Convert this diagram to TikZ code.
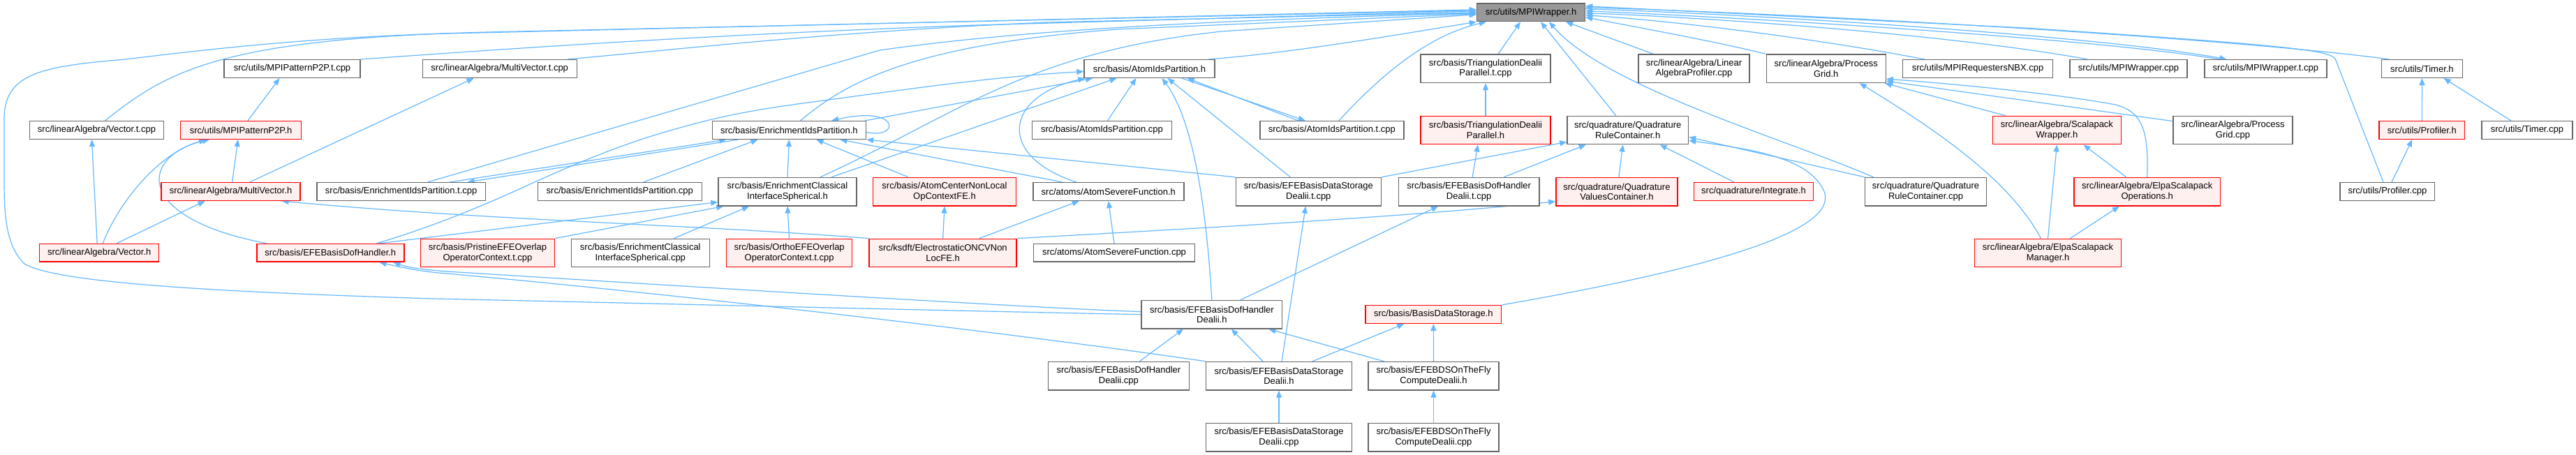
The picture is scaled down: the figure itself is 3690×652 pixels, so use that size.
\documentclass[tikz,border=0pt]{standalone}
\usepackage{fontspec}
\setmainfont{Liberation Sans}
\usetikzlibrary{arrows.meta}
\definecolor{edgeblue}{HTML}{63B8FF}
\definecolor{boxgray}{HTML}{666666}
\definecolor{redfill}{HTML}{FFF0F0}
\definecolor{rootfill}{HTML}{999999}
\pgfdeclarelayer{bglayer}
\pgfdeclarelayer{edgelayer}
\pgfsetlayers{bglayer,edgelayer,main}
\begin{document}
\begin{tikzpicture}[x=1pt,y=-1pt,
  nbox/.style={draw=boxgray,fill=white,line width=1.4pt,inner sep=0pt,align=center,font=\fontsize{13}{14.3}\selectfont},
  rbox/.style={nbox,draw=red,fill=redfill},
  rootbox/.style={nbox,fill=rootfill},
  hone/.style={minimum height=25.7pt},
  htwo/.style={minimum height=40.4pt},
  ed/.style={draw=edgeblue,line width=1.2pt,-{Triangle[length=10pt,width=8pt]}}]
\begin{pgfonlayer}{bglayer}
\fill[white] (0,0) rectangle (3690,652);
\end{pgfonlayer}
\useasboundingbox (0,0) rectangle (3690,652);
% row 1
\node[rootbox,hone,minimum width=155] (mpiw) at (2193,17.8) {src/utils/MPIWrapper.h};
% row 2
\node[nbox,hone,minimum width=195] (p2ptcpp) at (418.5,98.5) {src/utils/MPIPatternP2P.t.cpp};
\node[nbox,hone,minimum width=221] (mvtcpp) at (715.7,98.5) {src/linearAlgebra/MultiVector.t.cpp};
\node[nbox,hone,minimum width=187] (aiph) at (1646.5,98.5) {src/basis/AtomIdsPartition.h};
\node[nbox,htwo,minimum width=186] (tdptcpp) at (2128,98.3) {src/basis/TriangulationDealii\\Parallel.t.cpp};
\node[nbox,htwo,minimum width=159] (laprof) at (2426.5,98.3) {src/linearAlgebra/Linear\\AlgebraProfiler.cpp};
\node[nbox,htwo,minimum width=171] (pgh) at (2615.7,98.3) {src/linearAlgebra/Process\\Grid.h};
\node[nbox,hone,minimum width=215] (nbx) at (2833,98.5) {src/utils/MPIRequestersNBX.cpp};
\node[nbox,hone,minimum width=168] (mpiwcpp) at (3049,98.5) {src/utils/MPIWrapper.cpp};
\node[nbox,hone,minimum width=175] (mpiwtcpp) at (3245.4,98.5) {src/utils/MPIWrapper.t.cpp};
\node[nbox,hone,minimum width=116] (timerh) at (3469.4,98.5) {src/utils/Timer.h};
% row 3
\node[nbox,hone,minimum width=192] (vtcpp) at (138.5,186.5) {src/linearAlgebra/Vector.t.cpp};
\node[rbox,hone,minimum width=173] (p2ph) at (345,186.5) {src/utils/MPIPatternP2P.h};
\node[nbox,hone,minimum width=220] (eiph) at (1130.4,186.5) {src/basis/EnrichmentIdsPartition.h};
\node[nbox,hone,minimum width=200] (aipcpp) at (1578.5,186.5) {src/basis/AtomIdsPartition.cpp};
\node[nbox,hone,minimum width=206] (aiptcpp) at (1907.8,186.5) {src/basis/AtomIdsPartition.t.cpp};
\node[rbox,htwo,minimum width=186] (tdph) at (2128,186.5) {src/basis/TriangulationDealii\\Parallel.h};
\node[nbox,htwo,minimum width=173.5] (qrch) at (2331.7,186.5) {src/quadrature/Quadrature\\RuleContainer.h};
\node[rbox,htwo,minimum width=184] (scalw) at (2946.4,186.5) {src/linearAlgebra/Scalapack\\Wrapper.h};
\node[nbox,htwo,minimum width=171] (pgcpp) at (3198.5,186.5) {src/linearAlgebra/Process\\Grid.cpp};
\node[rbox,hone,minimum width=122.5] (profh) at (3469.3,186.5) {src/utils/Profiler.h};
\node[nbox,hone,minimum width=130] (timercpp) at (3620,186.5) {src/utils/Timer.cpp};
% row 4
\node[rbox,hone,minimum width=199] (mvh) at (330.6,274.5) {src/linearAlgebra/MultiVector.h};
\node[nbox,hone,minimum width=241.6] (eiptcpp) at (574.7,274.5) {src/basis/EnrichmentIdsPartition.t.cpp};
\node[nbox,hone,minimum width=235] (eipcpp) at (887.8,274.5) {src/basis/EnrichmentIdsPartition.cpp};
\node[nbox,htwo,minimum width=198] (ecish) at (1128,274.7) {src/basis/EnrichmentClassical\\InterfaceSpherical.h};
\node[rbox,htwo,minimum width=205] (acnl) at (1353,274.7) {src/basis/AtomCenterNonLocal\\OpContextFE.h};
\node[nbox,hone,minimum width=216] (asfh) at (1587.8,274.5) {src/atoms/AtomSevereFunction.h};
\node[nbox,htwo,minimum width=208] (efebdsdtcpp) at (1874.3,274.7) {src/basis/EFEBasisDataStorage\\Dealii.t.cpp};
\node[nbox,htwo,minimum width=201.6] (efebdhdtcpp) at (2104.1,274.7) {src/basis/EFEBasisDofHandler\\Dealii.t.cpp};
\node[rbox,htwo,minimum width=174] (qvch) at (2315.9,274.7) {src/quadrature/Quadrature\\ValuesContainer.h};
\node[rbox,hone,minimum width=171] (integ) at (2512,274.5) {src/quadrature/Integrate.h};
\node[nbox,htwo,minimum width=173.5] (qrccpp) at (2758.5,274.7) {src/quadrature/Quadrature\\RuleContainer.cpp};
\node[rbox,htwo,minimum width=209.4] (elpaops) at (3075.7,274.7) {src/linearAlgebra/ElpaScalapack\\Operations.h};
\node[nbox,hone,minimum width=135.7] (profcpp) at (3419.9,274.5) {src/utils/Profiler.cpp};
% row 5
\node[rbox,hone,minimum width=171] (vh) at (142.2,362.3) {src/linearAlgebra/Vector.h};
\node[rbox,hone,minimum width=211] (efebdhh) at (473.3,362.3) {src/basis/EFEBasisDofHandler.h};
\node[rbox,htwo,minimum width=192] (pristine) at (698.5,362.5) {src/basis/PristineEFEOverlap\\OperatorContext.t.cpp};
\node[nbox,htwo,minimum width=198] (eciscpp) at (917.3,362.5) {src/basis/EnrichmentClassical\\InterfaceSpherical.cpp};
\node[rbox,htwo,minimum width=180] (ortho) at (1130.6,362.5) {src/basis/OrthoEFEOverlap\\OperatorContext.t.cpp};
\node[rbox,htwo,minimum width=211] (oncv) at (1350.6,362.5) {src/ksdft/ElectrostaticONCVNon\\LocFE.h};
\node[nbox,hone,minimum width=231] (asfcpp) at (1596,362.3) {src/atoms/AtomSevereFunction.cpp};
\node[rbox,htwo,minimum width=210] (elpamgr) at (2933.5,362.5) {src/linearAlgebra/ElpaScalapack\\Manager.h};
% row 6
\node[nbox,htwo,minimum width=201.7] (efebdhdh) at (1735.9,450.7) {src/basis/EFEBasisDofHandler\\Dealii.h};
\node[rbox,hone,minimum width=194.7] (bdsh) at (2053.3,450.5) {src/basis/BasisDataStorage.h};
% row 7
\node[nbox,htwo,minimum width=201.7] (efebdhdcpp) at (1602.4,538.7) {src/basis/EFEBasisDofHandler\\Dealii.cpp};
\node[nbox,htwo,minimum width=208.5] (efebdsdh) at (1832,538.7) {src/basis/EFEBasisDataStorage\\Dealii.h};
\node[nbox,htwo,minimum width=187] (otfh) at (2053.5,538.7) {src/basis/EFEBDSOnTheFly\\ComputeDealii.h};
% row 8
\node[nbox,htwo,minimum width=208.5] (efebdsdcpp) at (1832,626.7) {src/basis/EFEBasisDataStorage\\Dealii.cpp};
\node[nbox,htwo,minimum width=187] (otfcpp) at (2053.5,626.7) {src/basis/EFEBDSOnTheFly\\ComputeDealii.cpp};

\begin{pgfonlayer}{edgelayer}
% edges into MPIWrapper.h from the left
\draw[ed] ([xshift=12pt]vtcpp.north) .. controls (230,110) and (300,60) .. (640,48) -- ([yshift=4pt]mpiw.west);
\draw[ed] (efebdhdh.west) .. controls (1300,444) and (900,434) .. (620,428) .. controls (300,418) and (80,405) .. (35,378) .. controls (6,350) and (6,300) .. (6,250) -- (6,170) .. controls (6,105) and (60,95) .. (180,85) .. controls (320,68) and (460,52) .. (700,46) -- ([yshift=3pt]mpiw.west);
\draw[ed] (p2ptcpp.north east) .. controls (700,72) and (1000,50) .. (1400,36) -- ([yshift=2pt]mpiw.west);
\draw[ed] ([xshift=-14pt]mvtcpp.north east) .. controls (1000,68) and (1200,45) .. (1500,32) -- (mpiw.west);
\draw[ed] ([xshift=38pt]eiptcpp.north) -- (1260,72) .. controls (1450,45) and (1700,30) .. ([yshift=-1pt]mpiw.west);
\draw[ed] ([xshift=16pt]eiph.north) .. controls (1210,120) and (1300,65) .. (1600,42) -- ([yshift=-2pt]mpiw.west);
\draw[ed] ([xshift=47pt]ecish.north) .. controls (1380,160) and (1470,75) .. (1750,45) -- ([yshift=-3pt]mpiw.west);
\draw[ed] ([xshift=-10pt]aiph.north east) .. controls (1850,76) and (2000,50) .. (mpiw.south west);
% edges into MPIWrapper.h from below and the right
\draw[ed] ([xshift=10pt]aiptcpp.north) .. controls (1985,100) and (2050,50) .. ([xshift=14pt]mpiw.south west);
\draw[ed] ([xshift=18pt]tdptcpp.north) -- ([xshift=-15pt]mpiw.south);
\draw[ed] ([xshift=-17pt]qrch.north) -- ([xshift=14pt]mpiw.south);
\draw[ed] ([xshift=-75pt]qrccpp.north) .. controls (2560,200) and (2300,125) .. ([xshift=26pt]mpiw.south);
\draw[ed] ([xshift=-58pt]laprof.north) -- ([xshift=50pt]mpiw.south);
\draw[ed] (pgh.north west) .. controls (2460,60) and (2350,40) .. ([yshift=-7pt]mpiw.east);
\draw[ed] ([xshift=-76pt]nbx.north) .. controls (2600,55) and (2400,30) .. ([yshift=-4pt]mpiw.east);
\draw[ed] ([xshift=-59pt]mpiwcpp.north) .. controls (2800,50) and (2450,25) .. ([yshift=-1pt]mpiw.east);
\draw[ed] ([xshift=-66pt]mpiwtcpp.north) .. controls (3000,55) and (2500,25) .. ([yshift=2pt]mpiw.east);
\draw[ed] ([yshift=5pt]mpiw.east) .. controls (2500,20) and (3000,50) .. ([xshift=-56pt]mpiwtcpp.north);
\draw[ed] ([xshift=-47pt]timerh.north) .. controls (3200,55) and (2600,20) .. ([yshift=7pt]mpiw.east);
\draw[ed] ([xshift=-6pt]profcpp.north) -- (3345,84) .. controls (3335,72) and (3280,65) .. (2900,40) -- ([yshift=9pt]mpiw.east);
% left group
\draw[ed] ([xshift=10pt]p2ph.north) -- ([xshift=-18pt]p2ptcpp.south);
\draw[ed] ([xshift=27pt]mvh.north) -- ([xshift=-37pt]mvtcpp.south);
\draw[ed] ([xshift=-3pt]vh.north) -- ([xshift=-7pt]vtcpp.south);
\draw[ed] ([xshift=5pt]vh.north) .. controls (170,290) and (230,215) .. ([xshift=-45pt]p2ph.south);
\draw[ed] ([xshift=-91pt]efebdhh.north) .. controls (200,315) and (195,230) .. ([xshift=-50pt]p2ph.south);
\draw[ed] ([xshift=2pt]mvh.north) -- ([xshift=-4pt]p2ph.south);
\draw[ed] ([xshift=25pt]vh.north) -- ([xshift=-37pt]mvh.south);
\draw[ed] (oncv.north west) .. controls (1000,322) and (700,316) .. ([xshift=73pt]mvh.south);
% EnrichmentIdsPartition.h
\draw[ed] ([xshift=70pt]eiptcpp.north) -- ([xshift=-90pt]eiph.south);
\draw[ed] ([xshift=-73pt]eiph.south) -- ([xshift=95pt]eiptcpp.north);
\draw[ed] ([xshift=34pt]eipcpp.north) -- ([xshift=-45pt]eiph.south);
\draw[ed] (ecish.north) -- (eiph.south);
\draw[ed] ([xshift=-52pt]acnl.north) -- ([xshift=39pt]eiph.south);
\draw[ed] ([xshift=-66pt]asfh.north) -- ([xshift=73pt]eiph.south);
\draw[ed] (efebdsdtcpp.north west) -- (eiph.south east);
\draw[ed] ([yshift=-3pt]eiph.east) .. controls (1290,200) and (1290,150) .. ([xshift=-50pt]eiph.north east);
% AtomIdsPartition.h
\draw[ed] ([xshift=-40pt]efebdhh.north east) .. controls (620,325) and (690,295) .. (735,275) .. controls (800,245) and (880,210) .. (950,190) .. controls (1010,172) and (1060,160) .. (1150,148) .. controls (1300,128) and (1420,110) .. ([yshift=-4pt]aiph.west);
\draw[ed] ([xshift=-2pt]eiph.north east) -- ([xshift=13pt]aiph.south west);
\draw[ed] ([xshift=-46pt]asfh.north) .. controls (1430,225) and (1435,140) .. ([xshift=2pt]aiph.south west);
\draw[ed] ([xshift=63pt]ecish.north) -- ([xshift=-47pt]aiph.south);
\draw[ed] ([xshift=8pt]aipcpp.north) -- ([xshift=-19pt]aiph.south);
\draw[ed] (efebdhdh.north) .. controls (1725,250) and (1700,160) .. ([xshift=18pt]aiph.south);
\draw[ed] ([xshift=-26pt]efebdsdtcpp.north) -- ([xshift=26pt]aiph.south);
\draw[ed] ([xshift=-48pt]aiptcpp.north) -- ([xshift=-40pt]aiph.south east);
\draw[ed] ([xshift=-48pt]aiph.south east) -- ([xshift=-38pt]aiptcpp.north);
% atoms / nonlocal
\draw[ed] (oncv.north) -- (acnl.south);
\draw[ed] ([xshift=52pt]oncv.north) -- ([xshift=-42pt]asfh.south);
\draw[ed] (asfcpp.north) -- (asfh.south);
\draw[ed] (oncv.north east) .. controls (1700,328) and (2000,312) .. ([yshift=-14pt]qvch.west);
% EnrichmentClassicalInterfaceSpherical.h
\draw[ed] ([xshift=48pt]eciscpp.north) -- ([xshift=-55pt]ecish.south);
\draw[ed] (ortho.north) -- (ecish.south);
\draw[ed] (pristine.north east) -- ([xshift=8pt]ecish.south west);
\draw[ed] ([xshift=-36pt]efebdhh.north east) -- ([yshift=6pt]ecish.south west);
% EFEBasisDofHandler.h
\draw[ed] ([yshift=4pt]efebdhdh.west) .. controls (1450,440) and (900,405) .. (640,389) .. controls (600,386) and (580,382) .. ([xshift=-16pt]efebdhh.south east);
\draw[ed] (efebdsdh.north west) .. controls (1400,470) and (900,415) .. (640,392) .. controls (600,389) and (570,382) .. ([xshift=-36pt]efebdhh.south east);
% dealii group
\draw[ed] ([xshift=30pt]efebdhdcpp.north) -- ([xshift=-41pt]efebdhdh.south);
\draw[ed] ([xshift=-23pt]efebdsdh.north) -- ([xshift=28pt]efebdhdh.south);
\draw[ed] ([xshift=-71pt]otfh.north) -- ([xshift=-20pt]efebdhdh.south east);
\draw[ed] ([xshift=41pt]efebdhdh.north) -- ([xshift=-44pt]efebdhdtcpp.south);
\draw[ed] ([xshift=4pt]efebdsdh.north) -- ([xshift=-4pt]efebdsdtcpp.south);
\draw[ed] (efebdsdcpp.north) -- (efebdsdh.south);
\draw[ed] ([xshift=48pt]efebdsdh.north) -- ([xshift=-42pt]bdsh.south);
\draw[ed] (otfh.north) -- (bdsh.south);
\draw[ed] (otfcpp.north) -- (otfh.south);
% quadrature
\draw[ed] (bdsh.north east) .. controls (2450,385) and (2640,330) .. (2612,272) .. controls (2590,228) and (2520,215) .. ([yshift=-15pt]qrch.east);
\draw[ed] (qrccpp.north west) -- ([yshift=-10pt]qrch.east);
\draw[ed] (efebdsdtcpp.north east) -- ([yshift=4pt]qrch.south west);
\draw[ed] ([xshift=50pt]efebdhdtcpp.north) -- ([xshift=-60pt]qrch.south);
\draw[ed] ([xshift=3pt]qvch.north) -- ([xshift=-7pt]qrch.south);
\draw[ed] ([xshift=-28pt]integ.north) -- ([xshift=46pt]qrch.south);
\draw[ed] ([xshift=5pt]efebdhdtcpp.north) -- ([xshift=-11pt]tdph.south);
\draw[ed] (tdph.north) -- (tdptcpp.south);
% linear algebra
\draw[ed] ([xshift=-74pt]scalw.north) -- ([xshift=-2pt]pgh.south east);
\draw[ed] ([yshift=-8pt]pgcpp.north west) -- ([yshift=3pt]pgh.south east);
\draw[ed] (elpaops.north) .. controls (3078,190) and (3070,160) .. (3030,150) .. controls (2950,135) and (2800,120) .. ([yshift=6pt]pgh.south east);
\draw[ed] ([xshift=-10pt]elpamgr.north) .. controls (2880,260) and (2780,190) .. ([xshift=48pt]pgh.south);
\draw[ed] (elpamgr.north) -- (scalw.south);
\draw[ed] ([xshift=32pt]elpamgr.north) -- ([xshift=-40pt]elpaops.south);
\draw[ed] ([xshift=-30pt]elpaops.north) -- ([xshift=38pt]scalw.south);
% utils
\draw[ed] (profh.north) -- (timerh.south);
\draw[ed] ([xshift=-23pt]timercpp.north) -- ([xshift=31pt]timerh.south);
\draw[ed] ([xshift=6pt]profcpp.north) -- ([xshift=-14pt]profh.south);
\end{pgfonlayer}
\end{tikzpicture}
\end{document}
